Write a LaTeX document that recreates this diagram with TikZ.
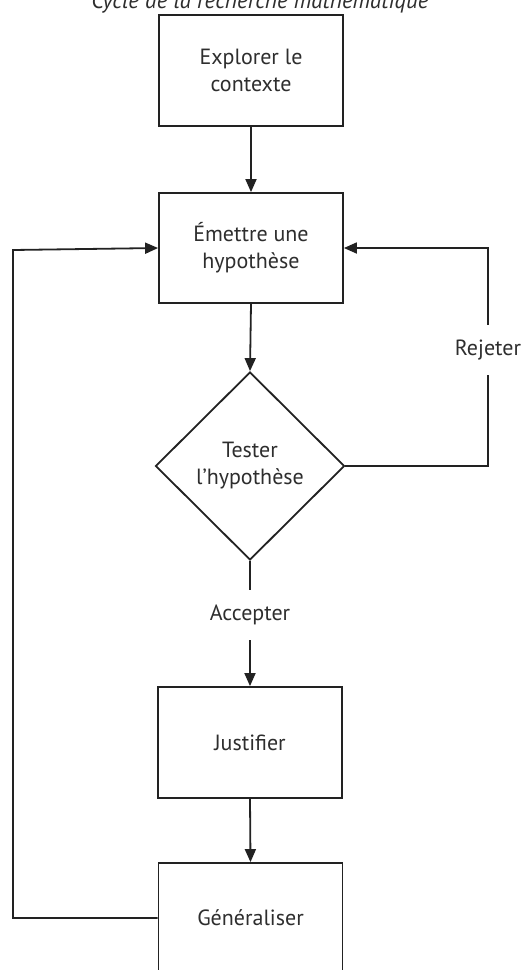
\documentclass[tikz,border=0pt]{standalone}
\usepackage{fontspec}
\setmainfont{PT Sans}
\usetikzlibrary{shapes.geometric,arrows.meta}
\definecolor{ink}{HTML}{222222}
\definecolor{txt}{HTML}{2E2E2E}
\begin{document}
\begin{tikzpicture}[x=1pt,y=-1pt,
  every node/.style={text=txt,font=\fontsize{22}{27}\selectfont},
  box/.style={draw=ink,line width=1.8pt,rectangle,minimum width=184pt,align=center,inner sep=0pt},
  dia/.style={draw=ink,line width=1.8pt,diamond,minimum width=189pt,minimum height=188pt,inner sep=0pt,align=center},
  lbl/.style={inner sep=0pt,minimum height=50pt},
  conn/.style={draw=ink,line width=1.8pt},
  arr/.style={conn,-{Triangle[length=13pt,width=11pt]}}]
\useasboundingbox (0,0) rectangle (521,970);
\clip (0,0) rectangle (521,970);
\fill[white] (0,0) rectangle (521,970);
\node[anchor=base,font=\fontsize{23}{27}\selectfont\itshape] (title) at (260,8) {Cycle de la recherche mathématique};
\node[box,minimum height=111pt] (explore) at (251,70.5) {Explorer le\\contexte};
\node[box,minimum height=110pt] (emettre) at (251,248) {Émettre une\\hypothèse};
\node[dia] (tester) at (250,466) {Tester\\l’hypothèse};
\node[lbl] (rej) at (488,350) {Rejeter};
\node[lbl] (acc) at (250,615) {Accepter};
\node[box,minimum height=111pt] (justifier) at (250,742.5) {Justifier};
\node[box,minimum height=110pt] (general) at (250.5,918) {Généraliser};
\coordinate (lft) at (13,250);
\draw[arr] (explore.south) -- (emettre.north);
\draw[arr] (emettre.south) -- (tester.north);
\draw[conn] (tester.east) -| (rej.south);
\draw[arr] (rej.north) |- (emettre.east);
\draw[conn] (tester.south) -- (acc.north);
\draw[arr] (acc.south) -- (justifier.north);
\draw[arr] (justifier.south) -- (general.north);
\draw[arr] (general.west) -| (lft) -- (emettre.west);
\end{tikzpicture}
\end{document}
